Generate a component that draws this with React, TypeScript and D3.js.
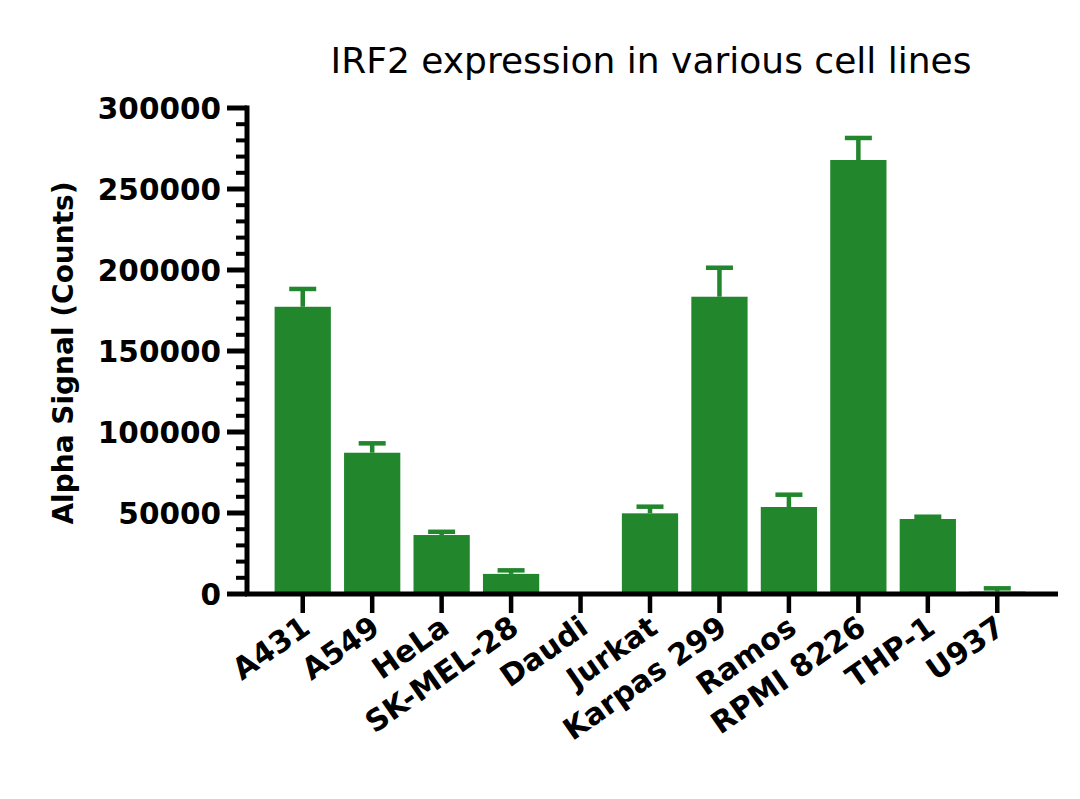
import React, { useEffect, useRef } from 'react';
import * as d3 from 'd3';

const cellLines = ['A431', 'A549', 'HeLa', 'SK-MEL-28', 'Daudi', 'Jurkat', 'Karpas 299', 'Ramos', 'RPMI 8226', 'THP-1', 'U937'];
const signal = [177300, 87200, 36400, 12400, 0, 49800, 183500, 53700, 267900, 46300, 1500];
const errUp = [11000, 5800, 2000, 2200, 0, 4100, 17900, 7600, 13600, 1400, 2000];
const yTicks = [0, 50000, 100000, 150000, 200000, 250000, 300000];

const green = '#22862c';
const font = '"DejaVu Sans", sans-serif';

export default function App() {
  const ref = useRef<SVGSVGElement>(null);

  useEffect(() => {
    const svg = d3.select(ref.current);
    svg.selectAll('*').remove();

    const y = d3.scaleLinear().domain([0, 300000]).range([594, 108]);
    const x = d3.scaleBand<string>()
      .domain(cellLines)
      .range([268, 1032])
      .paddingInner(0.19)
      .paddingOuter(0.095);

    const rows = cellLines.map((name, i) => ({ name, value: signal[i], err: errUp[i] }));

    // bars
    svg.append('g')
      .selectAll('rect')
      .data(rows.filter(d => d.value > 0))
      .enter()
      .append('rect')
      .attr('x', d => x(d.name)!)
      .attr('width', x.bandwidth())
      .attr('y', d => y(d.value))
      .attr('height', d => y(0) - y(d.value))
      .attr('fill', green);

    // error bars (upper only)
    const eb = svg.append('g').attr('stroke', green).attr('stroke-width', 4.5);
    rows.filter(d => d.err > 0).forEach(d => {
      const cx = x(d.name)! + x.bandwidth() / 2;
      eb.append('line')
        .attr('x1', cx).attr('x2', cx)
        .attr('y1', y(d.value)).attr('y2', y(d.value + d.err));
      eb.append('line')
        .attr('x1', cx - 13.5).attr('x2', cx + 13.5)
        .attr('y1', y(d.value + d.err)).attr('y2', y(d.value + d.err));
    });

    // y axis
    const ax = svg.append('g').attr('stroke', '#000');
    ax.append('line')
      .attr('x1', 247).attr('x2', 247)
      .attr('y1', y(300000) - 2.5).attr('y2', y(0))
      .attr('stroke-width', 5);
    const minor = d3.range(0, 300001, 10000).filter(v => v % 50000 !== 0);
    ax.selectAll('.minor')
      .data(minor)
      .enter()
      .append('line')
      .attr('x1', 236).attr('x2', 247)
      .attr('y1', d => y(d)).attr('y2', d => y(d))
      .attr('stroke-width', 4);
    ax.selectAll('.major')
      .data(yTicks)
      .enter()
      .append('line')
      .attr('x1', 227).attr('x2', 247)
      .attr('y1', d => y(d)).attr('y2', d => y(d))
      .attr('stroke-width', 5);

    svg.append('g')
      .selectAll('text')
      .data(yTicks)
      .enter()
      .append('text')
      .attr('x', 221)
      .attr('y', d => y(d))
      .attr('dy', '0.36em')
      .attr('text-anchor', 'end')
      .attr('font-family', font)
      .attr('font-weight', 'bold')
      .attr('font-size', 29.5)
      .text(d => String(d));

    // x axis
    ax.append('line')
      .attr('x1', 245).attr('x2', 1058)
      .attr('y1', y(0)).attr('y2', y(0))
      .attr('stroke-width', 5);
    ax.selectAll('.xt')
      .data(cellLines)
      .enter()
      .append('line')
      .attr('x1', d => x(d)! + x.bandwidth() / 2)
      .attr('x2', d => x(d)! + x.bandwidth() / 2)
      .attr('y1', y(0)).attr('y2', 613)
      .attr('stroke-width', 4.5);

    svg.append('g')
      .selectAll('text')
      .data(cellLines)
      .enter()
      .append('text')
      .attr('transform', d => `translate(${x(d)! + x.bandwidth() / 2 - 3},614) rotate(-35)`)
      .attr('dy', '0.72em')
      .attr('text-anchor', 'end')
      .attr('font-family', font)
      .attr('font-weight', 'bold')
      .attr('font-size', 30)
      .text(d => d);

    // y label
    svg.append('text')
      .attr('transform', 'translate(73,353) rotate(-90)')
      .attr('text-anchor', 'middle')
      .attr('font-family', font)
      .attr('font-weight', 'bold')
      .attr('font-size', 28)
      .text('Alpha Signal (Counts)');

    // title
    svg.append('text')
      .attr('x', 651)
      .attr('y', 73)
      .attr('text-anchor', 'middle')
      .attr('font-family', font)
      .attr('font-size', 36)
      .text('IRF2 expression in various cell lines');
  }, []);

  return (
    <svg ref={ref} width={1080} height={799} style={{ position: 'absolute', left: 0, top: 0, background: '#fff' }} />
  );
}
